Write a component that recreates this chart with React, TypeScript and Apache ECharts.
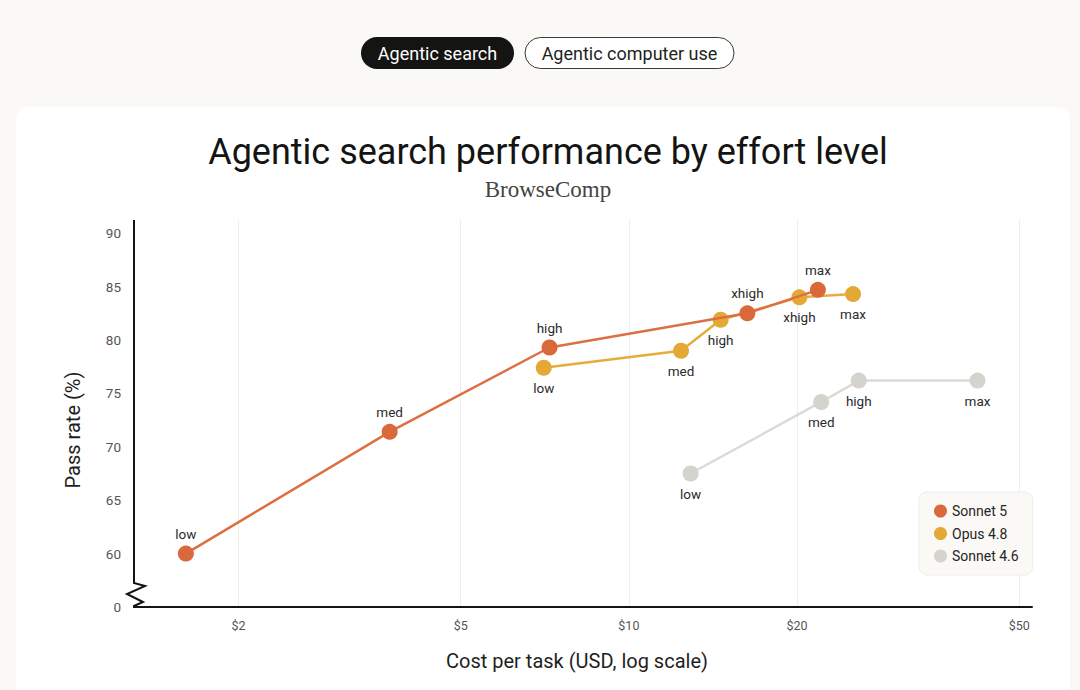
import React, { useEffect, useRef } from "react";
import * as echarts from "echarts";

// ---- data ----
const seriesNames = ["Sonnet 5", "Opus 4.8", "Sonnet 4.6"];

const sonnet5Levels = ["low", "med", "high", "xhigh", "max"];
const sonnet5Cost = [1.61, 3.73, 7.21, 16.3, 21.8];
const sonnet5Pass = [60.0, 71.4, 79.3, 82.5, 84.7];

const opus48Levels = ["low", "med", "high", "xhigh", "max"];
const opus48Cost = [7.04, 12.4, 14.6, 20.2, 25.2];
const opus48Pass = [77.4, 79.0, 81.9, 84.0, 84.3];

const sonnet46Levels = ["low", "med", "high", "max"];
const sonnet46Cost = [12.9, 22.1, 25.8, 42.1];
const sonnet46Pass = [67.5, 74.2, 76.2, 76.2];

const xTickCosts = [2, 5, 10, 20, 50];
const yTicks = [55, 60, 65, 70, 75, 80, 85, 90]; // 55 is the broken-axis "0"

const tabs = ["Agentic search", "Agentic computer use"];
const titleText = "Agentic search performance by effort level";
const subtitleText = "BrowseComp";
const xName = "Cost per task (USD, log scale)";
const yName = "Pass rate (%)";

const colors = ["#d9693b", "#e4a935", "#d5d3cd"];
const lineColors = ["#dc7044", "#e6ad3c", "#dcdad5"];

const FONT = "Roboto, 'Noto Sans', sans-serif";

const GRID = { left: 134, right: 48, top: 220, bottom: 83 };
const X_MIN = Math.log10(1.3);
const X_MAX = Math.log10(52.7);

function mkSeries(
  name: string,
  levels: string[],
  cost: number[],
  pass: number[],
  idx: number,
  labelPos: "top" | "bottom"
) {
  return {
    name,
    type: "line",
    data: cost.map((c, i) => ({
      value: [Math.log10(c), pass[i]],
      name: levels[i],
    })),
    symbol: "circle",
    symbolSize: 16,
    itemStyle: { color: colors[idx] },
    lineStyle: { color: lineColors[idx], width: 2.5 },
    label: {
      show: true,
      position: labelPos,
      distance: 5,
      formatter: (p: any) => p.name,
      color: "#2b2b2b",
      fontSize: 13.5,
      fontFamily: FONT,
    },
    emphasis: { disabled: true },
    z: 3 - idx,
  };
}

export default function App() {
  const ref = useRef<HTMLDivElement>(null);

  useEffect(() => {
    document.body.style.margin = "0";
    if (!ref.current) return;
    const chart = echarts.init(ref.current, null, { renderer: "svg" });

    const axisX = GRID.left;
    const bottomY = 690 - GRID.bottom;

    const option: any = {
      animation: false,
      backgroundColor: "#faf9f5",
      textStyle: { fontFamily: FONT },
      grid: { ...GRID, containLabel: false },
      legend: {
        orient: "vertical",
        left: 919,
        top: 492,
        data: seriesNames,
        icon: "circle",
        itemWidth: 13,
        itemHeight: 13,
        itemGap: 8.5,
        padding: [12, 14, 12, 15],
        backgroundColor: "#faf9f5",
        borderColor: "#efede8",
        borderWidth: 1,
        borderRadius: 8,
        textStyle: { fontSize: 14, color: "#262626", fontFamily: FONT },
        selectedMode: false,
      },
      xAxis: {
        type: "value",
        min: X_MIN,
        max: X_MAX,
        axisLine: { show: true, lineStyle: { color: "#141413", width: 2 } },
        axisTick: { show: false, customValues: xTickCosts.map((c) => Math.log10(c)) },
        axisLabel: {
          customValues: xTickCosts.map((c) => Math.log10(c)),
          formatter: (v: number) => "$" + Math.round(Math.pow(10, v)),
          color: "#555",
          fontSize: 12.5,
          margin: 12,
          fontFamily: FONT,
        },
        splitLine: { show: true, lineStyle: { color: "#efede9", width: 1 } },
      },
      yAxis: {
        type: "value",
        min: 55,
        max: 91.24,
        interval: 5,
        axisLine: { show: false },
        axisTick: { show: false },
        axisLabel: {
          customValues: yTicks,
          formatter: (v: number) => (v === 55 ? "0" : String(v)),
          color: "#555",
          fontSize: 13.5,
          margin: 13,
          fontFamily: FONT,
        },
        splitLine: { show: false },
      },
      series: [
        mkSeries(seriesNames[2], sonnet46Levels, sonnet46Cost, sonnet46Pass, 2, "bottom"),
        mkSeries(seriesNames[1], opus48Levels, opus48Cost, opus48Pass, 1, "bottom"),
        mkSeries(seriesNames[0], sonnet5Levels, sonnet5Cost, sonnet5Pass, 0, "top"),
      ],
      graphic: [
        // card
        {
          type: "rect",
          shape: { x: 16, y: 107, width: 1054, height: 640, r: 12 },
          style: { fill: "#ffffff" },
          z: -10,
          silent: true,
        },
        // tabs
        {
          type: "rect",
          shape: { x: 361, y: 37, width: 153, height: 32, r: 16 },
          style: { fill: "#141413" },
        },
        {
          type: "text",
          x: 437.5,
          y: 53,
          style: {
            text: tabs[0],
            fill: "#ffffff",
            fontSize: 18,
            fontFamily: FONT,
            textAlign: "center",
            textVerticalAlign: "middle",
          },
        },
        {
          type: "rect",
          shape: { x: 525, y: 37.5, width: 209, height: 31, r: 15.5 },
          style: { fill: "#ffffff", stroke: "#3a3a38", lineWidth: 1 },
        },
        {
          type: "text",
          x: 629.5,
          y: 53,
          style: {
            text: tabs[1],
            fill: "#1f1f1e",
            fontSize: 18,
            fontFamily: FONT,
            textAlign: "center",
            textVerticalAlign: "middle",
          },
        },
        // title
        {
          type: "text",
          x: 548,
          y: 152,
          style: {
            text: titleText,
            fill: "#141413",
            fontSize: 36,
            fontWeight: 400,
            fontFamily: FONT,
            textAlign: "center",
            textVerticalAlign: "middle",
          },
        },
        {
          type: "text",
          x: 548,
          y: 189,
          style: {
            text: subtitleText,
            fill: "#444441",
            fontSize: 23,
            fontFamily: "'Liberation Serif', 'DejaVu Serif', serif",
            textAlign: "center",
            textVerticalAlign: "middle",
          },
        },
        // axis names
        {
          type: "text",
          x: 577,
          y: 661,
          style: {
            text: xName,
            fill: "#1f1f1e",
            fontSize: 20,
            fontFamily: FONT,
            textAlign: "center",
            textVerticalAlign: "middle",
          },
        },
        {
          type: "text",
          x: 73,
          y: 430,
          rotation: Math.PI / 2,
          style: {
            text: yName,
            fill: "#1f1f1e",
            fontSize: 20,
            fontFamily: FONT,
            textAlign: "center",
            textVerticalAlign: "middle",
          },
        },
        // y axis line with break zigzag
        {
          type: "polyline",
          shape: {
            points: [
              [axisX, GRID.top],
              [axisX, bottomY - 24],
              [axisX + 11, bottomY - 21],
              [axisX - 7, bottomY - 13],
              [axisX + 9, bottomY - 5],
              [axisX, bottomY - 1],
              [axisX, bottomY + 1],
            ],
          },
          style: { stroke: "#141413", lineWidth: 2, fill: null },
          z: 10,
        },
      ],
    };

    chart.setOption(option);
    return () => chart.dispose();
  }, []);

  return <div ref={ref} style={{ width: 1080, height: 690 }} />;
}
